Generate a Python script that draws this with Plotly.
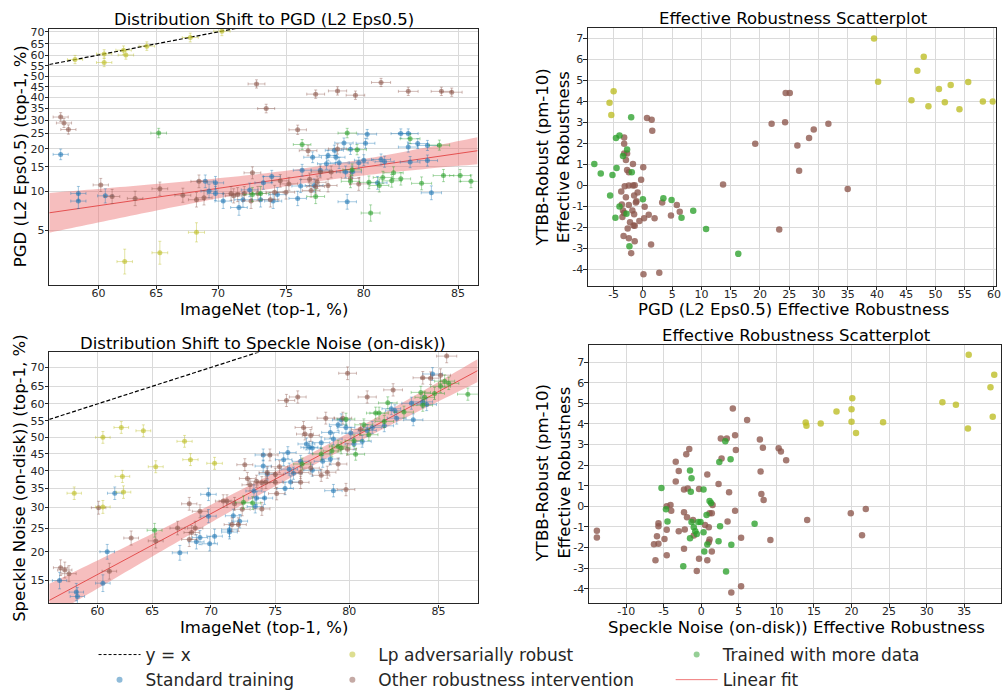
import numpy as np
import plotly.graph_objects as go

# ---------------- data ----------------
# Top-left: (ImageNet top-1 %, PGD (L2 Eps0.5) top-1 %)
PGD_STANDARD = [(56.6,18.3),(58.2,9.6),(58.2,8.4),(60.6,9.2),(69.0,11.8),(69.8,11.5),(69.8,9.6),(70.4,8.4),
    (69.3,10.0),(71.6,7.5),(71.9,8.6),(72.4,10.2),(73.2,8.6),(73.4,11.5),(74.0,12.8),(74.1,8.4),(74.4,9.4),
    (75.8,8.8),(76.0,10.9),(76.1,14.2),(76.8,17.5),(76.9,11.0),(77.3,14.2),(77.7,15.8),(77.8,18.0),(78.2,19.5),
    (78.3,17.5),(78.5,16.0),(78.8,21.8),(78.9,13.8),(79.0,8.3),(79.2,19.8),(79.3,13.8),(79.7,16.0),(80.1,21.7),
    (80.2,24.8),(80.0,16.7),(80.8,11.5),(81.0,16.9),(81.2,16.3),(82.1,25.0),(82.5,25.0),(82.5,20.5),(82.6,16.2),
    (83.0,21.6),(83.5,16.6),(83.5,21.0),(83.7,9.7)]
PGD_LP = [(57.9,57.9),(60.5,60.5),(60.5,56.5),(62.2,62.2),(62.4,60.0),(64.2,64.0),(67.8,67.7),(70.3,70.3),
    (62.3,2.8),(65.3,3.3),(68.3,4.8)]
PGD_OTHER = [(56.6,31.4),(56.9,29.0),(57.3,26.5),(72.9,46.3),(73.6,35.0),(77.0,41.5),(78.4,43.0),(79.5,41.0),
    (81.0,47.0),(82.5,42.8),(84.2,42.8),(84.7,42.4),(75.8,26.4),(60.2,11.1),(61.2,9.1),(63.2,8.8),(65.3,10.4),
    (67.2,9.3),(68.3,8.6),(68.5,11.8),(68.9,8.9),(71.0,9.6),(71.5,9.4),(72.0,9.6),(72.5,8.4),(72.6,13.6),
    (73.0,9.6),(73.9,8.6),(74.2,9.8),(74.6,11.9),(75.0,9.8),(75.2,11.3),(76.6,12.2),(76.5,19.4),(77.0,10.8),
    (77.3,13.8),(77.8,11.0),(78.0,13.8),(78.4,19.9),(79.7,11.3),(79.2,12.4),(76.7,10.1),(77.1,11.6),(71.2,9.2)]
PGD_MOREDATA = [(65.2,25.2),(76.1,21.3),(79.0,25.2),(79.6,19.7),(79.3,14.3),(79.2,11.8),(77.0,9.1),(80.3,11.6),
    (80.4,6.8),(80.9,11.0),(81.1,12.6),(81.6,11.9),(81.7,13.6),(82.1,12.3),(82.6,23.2),(83.2,11.4),(84.1,21.1),
    (84.3,13.0),(85.1,13.0),(85.6,11.8),(72.6,9.4),(73.2,9.6)]
# linear fit in logit space: slope, intercept, and confidence band parameters
PGD_FIT = {"slope": 0.750, "intercept": -2.781, "center": 1.208, "a": 0.0204, "b": 0.128}

# Bottom-left: (ImageNet top-1 %, Speckle Noise (on-disk) top-1 %)
SPK_STANDARD = [(56.4,15.0),(58.0,13.3),(58.1,12.7),(60.5,14.6),(60.9,20.0),(61.6,33.7),(67.4,19.8),(69.1,22.9),
    (68.8,22.0),(69.9,21.6),(70.3,23.2),(69.8,33.4),(69.8,27.8),(71.5,24.6),(71.5,24.1),(71.8,27.9),(72.3,26.6),
    (73.4,34.3),(73.6,32.4),(73.5,30.2),(74.1,44.7),(74.1,41.4),(74.2,32.4),(74.4,39.1),(75.6,43.3),(75.9,45.4),
    (75.7,35.0),(76.1,36.8),(76.3,39.3),(76.0,40.5),(76.8,42.8),(77.2,48.0),(77.4,47.0),(77.6,46.8),(77.6,40.2),
    (78.2,48.4),(78.3,42.8),(78.8,43.5),(78.8,51.5),(79.0,49.5),(79.3,53.8),(79.5,55.3),(79.0,34.4),(79.8,53.0),
    (80.1,51.3),(80.3,48.0),(80.8,48.8),(81.1,52.1),(81.4,53.0),(82.1,53.5),(82.5,58.6),(82.7,58.0),(82.8,55.8),
    (83.6,60.2),(83.7,55.3),(84.2,60.6),(84.4,59.8),(84.7,68.3)]
SPK_LP = [(57.8,33.7),(60.5,50.0),(62.2,53.0),(64.2,52.0),(67.8,48.8),(68.3,43.3),(70.3,42.2),(65.3,41.2),
    (62.3,38.4),(62.4,34.0),(60.5,30.1)]
SPK_OTHER = [(56.5,17.1),(56.9,16.7),(57.3,16.1),(60.1,29.9),(61.1,16.5),(63.1,22.8),(65.3,22.2),(67.2,25.0),
    (68.2,30.9),(68.2,22.5),(68.4,24.0),(68.7,25.0),(69.1,29.0),(71.0,31.6),(71.3,31.6),(71.7,25.8),(71.9,30.9),
    (72.2,25.8),(72.5,29.5),(72.7,41.8),(72.9,37.8),(73.1,36.0),(73.6,37.0),(74.0,36.6),(74.3,36.7),(74.0,29.6),
    (74.6,44.7),(74.4,39.5),(75.0,39.0),(75.0,36.7),(75.3,41.2),(75.1,33.6),(75.8,61.0),(76.6,62.0),(76.8,39.5),
    (76.8,36.7),(77.1,51.0),(77.5,40.8),(77.5,50.6),(77.0,53.0),(78.2,38.7),(78.6,39.6),(78.5,55.8),(79.6,55.8),
    (79.8,34.7),(79.9,68.5),(81.1,62.0),(82.6,64.0),(84.2,67.3),(84.6,67.2),(85.1,68.0),(85.4,72.8),(79.9,46.4),
    (79.3,42.0),(80.7,52.4)]
SPK_MOREDATA = [(65.2,24.5),(72.6,31.3),(73.3,31.1),(76.9,42.0),(78.2,45.0),(78.9,45.9),(79.3,47.3),(79.5,46.8),
    (79.8,55.5),(80.3,49.0),(80.4,44.9),(80.9,53.8),(81.2,50.8),(81.6,57.3),(81.8,57.3),(82.3,60.3),(82.1,54.8),
    (83.2,57.6),(84.1,63.3),(84.3,61.9),(84.2,59.6),(84.8,63.0),(85.1,65.0),(85.3,66.4),(85.5,65.8),(86.4,62.8)]
SPK_FIT = {"slope": 1.667, "intercept": -2.337, "center": 1.25, "a": 0.0064, "b": 0.0317}

# Top-right: (PGD effective robustness, YTBB-Robust effective robustness)
ER_PGD_LP = [(39.5,7.0),(40.2,4.94),(45.9,4.06),(46.9,5.47),(48.0,6.13),(48.8,3.78),(50.6,4.6),(51.6,3.97),
    (52.6,4.79),(54.1,3.63),(55.6,4.93),(58.1,4.01),(59.8,4.0),(-5.7,3.95),(-5.0,4.49),(-5.4,3.36)]
ER_PGD_OTHER = [(24.4,4.41),(25.1,4.41),(22.0,2.95),(24.3,3.02),(29.2,2.67),(31.7,2.95),(19.2,1.99),(28.4,2.27),
    (26.4,1.91),(26.7,0.71),(13.7,0.05),(35.0,-0.16),(23.3,-2.09),(0.7,3.22),(1.5,3.13),(1.6,2.61),(-3.2,2.29),
    (-3.2,1.99),(-3.2,1.53),(-2.7,1.53),(-2.9,1.22),(-2.7,0.74),(-2.4,0.63),(-1.7,1.03),(0.06,0.87),(-0.3,0.28),
    (-3.1,-0.03),(-2.4,0.0),(-1.7,0.0),(-1.4,0.02),(-3.7,-0.28),(-0.9,-0.33),(-2.9,-0.55),(-1.5,-0.47),
    (-1.1,-0.74),(-1.2,-0.81),(-3.6,-0.9),(-2.4,-0.92),(0.3,-1.01),(3.3,-0.81),(5.8,-0.92),(6.3,-1.25),
    (-3.4,-1.18),(-3.2,-1.31),(-1.8,-1.18),(-1.5,-1.37),(1.0,-1.39),(-3.5,-1.5),(4.8,-1.42),(0.2,-1.55),
    (2.0,-1.55),(-2.2,-1.74),(-0.6,-1.69),(-1.6,-1.9),(-1.4,-1.91),(-2.6,-2.04),(-3.3,-2.4),(-2.4,-2.51),
    (-1.4,-2.65),(1.4,-2.8),(-2.0,-3.22),(0.1,-4.22),(2.8,-4.15)]
ER_PGD_MOREDATA = [(-8.3,1.03),(-7.2,0.58),(-5.2,0.51),(-4.5,0.84),(-4.6,2.27),(-4.0,2.39),(-2.7,1.72),
    (-3.4,1.41),(-2.0,3.25),(-1.9,0.63),(-5.6,-0.47),(-4.0,-1.0),(-2.8,-1.34),(-4.7,-1.53),(0.0,-0.65),
    (3.5,-0.6),(4.9,-0.68),(6.6,-1.53),(8.6,-1.2),(10.8,-2.07),(16.3,-3.25),(-2.3,-2.89)]

# Bottom-right: (Speckle Noise effective robustness, YTBB-Robust effective robustness)
ER_SPK_LP = [(35.6,7.36),(39.0,6.39),(38.5,5.78),(32.1,5.06),(33.9,4.93),(38.8,4.35),(35.5,3.78),(20.1,5.25),
    (20.0,4.72),(18.0,4.61),(20.0,4.11),(24.2,4.09),(13.9,4.07),(14.0,3.91),(15.9,4.03),(20.6,3.56)]
ER_SPK_OTHER = [(-13.9,-1.18),(-13.9,-1.51),(-6.3,-1.84),(-6.1,-2.62),(-5.9,-1.45),(-5.7,-0.97),(-5.7,-0.82),
    (-5.7,-1.82),(-4.9,-1.58),(-4.6,-1.14),(-4.6,-2.38),(-4.6,0.0),(-4.1,0.06),(-4.0,-0.21),(-3.4,1.21),
    (-3.4,2.17),(-3.0,1.72),(-3.0,-1.21),(-2.3,-0.29),(-2.2,-1.13),(-2.3,-2.06),(-2.0,2.53),(-1.6,2.79),
    (-2.3,0.82),(-1.8,0.87),(-1.9,-0.53),(-1.1,-0.66),(-1.0,-1.42),(-0.6,-3.14),(-0.3,-2.54),(-0.3,0.84),
    (0.5,-0.9),(0.8,1.55),(0.8,-2.62),(1.0,-1.01),(1.1,-0.34),(1.1,-1.61),(1.0,-1.74),(1.4,-0.34),(1.4,-2.19),
    (1.5,0.06),(2.3,1.08),(2.6,3.3),(2.7,2.33),(3.4,3.3),(3.5,-0.74),(3.7,0.68),(4.2,4.75),(4.5,3.45),
    (4.6,2.74),(4.5,-0.21),(5.3,-1.53),(5.3,-3.88),(4.0,-4.19),(6.1,4.19),(7.8,3.25),(7.9,1.69),(8.0,0.6),
    (8.2,2.85),(8.3,0.31),(9.2,-1.63),(10.3,2.82),(10.6,2.66),(11.3,2.24),(14.1,-0.66),(19.9,-0.34),
    (21.9,-0.13),(21.4,-1.4)]
ER_SPK_MOREDATA = [(-5.3,0.89),(-4.7,-0.14),(-4.5,-0.74),(-2.4,-2.91),(-1.5,1.74),(-1.3,1.37),(-1.4,0.71),
    (-1.3,-0.76),(-1.0,-1.01),(-0.8,-1.21),(-0.6,-1.34),(-1.5,-1.55),(-0.4,-0.76),(-0.1,-0.76),(0.3,0.82),
    (0.3,-1.26),(0.4,-2.19),(0.7,-0.42),(0.8,-1.85),(1.1,0.26),(1.3,0.16),(2.4,2.16),(2.5,-0.97),(2.3,-1.69),
    (3.2,3.16),(3.3,-3.17),(3.9,2.29),(4.0,-1.87),(7.1,-0.84)]

# axis limits and ticks
TL_XLIM, TL_YLIM = (55.56, 85.9), (1.815, 71.2)
BL_XLIM, BL_YLIM = (55.41, 86.84), (11.8, 73.66)
TR_XLIM, TR_YLIM = (-9.37, 60.3), (-4.77, 7.51)
BR_XLIM, BR_YLIM = (-14.94, 39.9), (-4.70, 7.86)
ACC_XTICKS = [60, 65, 70, 75, 80, 85]
PGD_YTICKS = [5, 10, 15, 20, 25, 30, 35, 40, 45, 50, 55, 60, 65, 70]
SPK_YTICKS = [15, 20, 25, 30, 35, 40, 45, 50, 55, 60, 65, 70]
TR_XTICKS = list(range(-5, 61, 5))
BR_XTICKS = list(range(-10, 36, 5))
ER_YTICKS = list(range(-4, 8))
N_IMAGENET, N_PGD, N_SPK = 20000, 2500, 3000

# ---------------- helpers ----------------
FONT = "DejaVu Sans"
TXT = "#262626"
COL = {"std": (31, 119, 180), "lp": (188, 189, 34), "other": (140, 86, 75), "more": (44, 160, 44)}


def rgba(c, a):
    return "rgba(%d,%d,%d,%.2f)" % (c[0], c[1], c[2], a)


def logit(p):
    p = np.asarray(p, float) / 100.0
    return np.log(p / (1 - p))


def ci(p, n):
    p = np.asarray(p, float) / 100.0
    return 1.96 / np.sqrt(n * p * (1 - p))


fig = go.Figure()


def acc_panel(series, fit, xlim, nx_y, xa, ya):
    xl = logit(xlim)
    # y = x
    fig.add_trace(go.Scatter(x=list(xl), y=list(xl), mode="lines", xaxis=xa, yaxis=ya, showlegend=False,
                             line=dict(color="black", width=1.2, dash="4px,2px"), hoverinfo="skip"))
    # fit band + line
    xs = np.linspace(xl[0], xl[1], 80)
    ys = fit["slope"] * xs + fit["intercept"]
    hw = np.sqrt(fit["a"] + fit["b"] * (xs - fit["center"]) ** 2)
    fig.add_trace(go.Scatter(x=np.concatenate([xs, xs[::-1]]), y=np.concatenate([ys + hw, (ys - hw)[::-1]]),
                             fill="toself", mode="none", fillcolor="rgba(235,110,110,0.45)",
                             xaxis=xa, yaxis=ya, showlegend=False, hoverinfo="skip"))
    fig.add_trace(go.Scatter(x=xs, y=ys, mode="lines", line=dict(color="rgb(228,80,80)", width=1),
                             xaxis=xa, yaxis=ya, showlegend=False, hoverinfo="skip"))
    for key, pts in series:
        px = [p[0] for p in pts]
        py = [p[1] for p in pts]
        c = COL[key]
        fig.add_trace(go.Scatter(
            x=logit(px), y=logit(py), mode="markers", xaxis=xa, yaxis=ya, showlegend=False,
            marker=dict(color=rgba(c, 0.6), size=5, line=dict(width=0)),
            error_x=dict(type="data", array=ci(px, N_IMAGENET), color=rgba(c, 0.4), thickness=1, width=1.5),
            error_y=dict(type="data", array=ci(py, nx_y), color=rgba(c, 0.4), thickness=1, width=1.5)))


def er_panel(series, xa, ya):
    for key, pts in series:
        c = COL[key]
        fig.add_trace(go.Scatter(x=[p[0] for p in pts], y=[p[1] for p in pts], mode="markers",
                                 xaxis=xa, yaxis=ya, showlegend=False,
                                 marker=dict(color=rgba(c, 0.78), size=6.5, line=dict(width=0))))


acc_panel([("std", PGD_STANDARD), ("other", PGD_OTHER), ("more", PGD_MOREDATA), ("lp", PGD_LP)],
          PGD_FIT, TL_XLIM, N_PGD, "x", "y")
acc_panel([("std", SPK_STANDARD), ("other", SPK_OTHER), ("more", SPK_MOREDATA), ("lp", SPK_LP)],
          SPK_FIT, BL_XLIM, N_SPK, "x2", "y2")
er_panel([("lp", ER_PGD_LP), ("other", ER_PGD_OTHER), ("more", ER_PGD_MOREDATA)], "x3", "y3")
er_panel([("lp", ER_SPK_LP), ("other", ER_SPK_OTHER), ("more", ER_SPK_MOREDATA)], "x4", "y4")

# legend entries (three columns)
LEG = dict(x=[None], y=[None], xaxis="x", yaxis="y")
fig.add_trace(go.Scatter(**LEG, mode="lines", name="y = x", legend="legend",
                         line=dict(color="black", width=1, dash="3px,2px")))
fig.add_trace(go.Scatter(**LEG, mode="markers", name="Standard training", legend="legend",
                         marker=dict(color=rgba(COL["std"], 0.5), size=6)))
fig.add_trace(go.Scatter(**LEG, mode="markers", name="Lp adversarially robust", legend="legend2",
                         marker=dict(color=rgba(COL["lp"], 0.5), size=6)))
fig.add_trace(go.Scatter(**LEG, mode="markers", name="Other robustness intervention", legend="legend2",
                         marker=dict(color=rgba(COL["other"], 0.5), size=6)))
fig.add_trace(go.Scatter(**LEG, mode="markers", name="Trained with more data", legend="legend3",
                         marker=dict(color=rgba(COL["more"], 0.5), size=6)))
fig.add_trace(go.Scatter(**LEG, mode="lines", name="Linear fit", legend="legend3",
                         line=dict(color="rgb(240,120,120)", width=1)))

W, H = 1006, 698


def axis(domain, rng, tickvals, ticktext, anchor, standoff):
    return dict(domain=domain, range=rng, tickvals=tickvals, ticktext=ticktext, anchor=anchor,
                showgrid=True, gridcolor="#dadada", gridwidth=1.3, zeroline=False,
                showline=True, mirror=True, linecolor=TXT, linewidth=1.3,
                ticks="outside", ticklen=3.5, tickwidth=1, tickcolor=TXT, ticklabelstandoff=standoff,
                tickfont=dict(family=FONT, size=11, color=TXT))


def dom_x(a, b):
    return [a / W, b / W]


def dom_y(top, bottom):
    return [1 - bottom / H, 1 - top / H]


XS, YS = -6, -2
lay = dict(width=W, height=H, margin=dict(l=0, r=0, t=0, b=0), paper_bgcolor="white", plot_bgcolor="white",
           font=dict(family=FONT, color=TXT))
lay["xaxis"] = axis(dom_x(49.5, 480), list(logit(TL_XLIM)), list(logit(ACC_XTICKS)), [str(v) for v in ACC_XTICKS], "y", XS)
lay["yaxis"] = axis(dom_y(26, 283), list(logit(TL_YLIM)), list(logit(PGD_YTICKS)), [str(v) for v in PGD_YTICKS], "x", YS)
lay["xaxis2"] = axis(dom_x(49.5, 480), list(logit(BL_XLIM)), list(logit(ACC_XTICKS)), [str(v) for v in ACC_XTICKS], "y2", XS)
lay["yaxis2"] = axis(dom_y(351, 603), list(logit(BL_YLIM)), list(logit(SPK_YTICKS)), [str(v) for v in SPK_YTICKS], "x2", YS)
lay["xaxis3"] = axis(dom_x(591, 1000.7), list(TR_XLIM), TR_XTICKS, [str(v) for v in TR_XTICKS], "y3", XS)
lay["yaxis3"] = axis(dom_y(25, 284), list(TR_YLIM), ER_YTICKS, [str(v) for v in ER_YTICKS], "x3", YS)
lay["xaxis4"] = axis(dom_x(592, 1006), list(BR_XLIM), BR_XTICKS, [str(v) for v in BR_XTICKS], "y4", XS)
lay["yaxis4"] = axis(dom_y(343, 602.7), list(BR_YLIM), ER_YTICKS, [str(v) for v in ER_YTICKS], "x4", YS)

leg_common = dict(orientation="v", yanchor="bottom", xanchor="left", bgcolor="rgba(0,0,0,0)", borderwidth=0,
                  font=dict(family=FONT, size=17, color=TXT), itemwidth=42, tracegroupgap=0, y=0)
lay["legend"] = dict(leg_common, x=94 / W)
lay["legend2"] = dict(leg_common, x=328 / W)
lay["legend3"] = dict(leg_common, x=674 / W)
fig.update_layout(**lay)


def ann(text, cx, cy, size, angle=0):
    fig.add_annotation(text=text, x=cx / W, y=1 - cy / H, xref="paper", yref="paper", showarrow=False,
                       xanchor="center", yanchor="middle", textangle=angle,
                       font=dict(family=FONT, size=size, color="black"))


ann("Distribution Shift to PGD (L2 Eps0.5)", 265, 16.5, 16.5)
ann("Effective Robustness Scatterplot", 797, 16, 16.5)
ann("Distribution Shift to Speckle Noise (on-disk))", 264, 341.5, 16.5)
ann("Effective Robustness Scatterplot", 800, 334, 16.5)
ann("ImageNet (top-1, %)", 265, 307.5, 16.5)
ann("ImageNet (top-1, %)", 265, 627.5, 16.5)
ann("PGD (L2 Eps0.5) Effective Robustness", 797, 307.5, 16.5)
ann("Speckle Noise (on-disk)) Effective Robustness", 800, 627.5, 16.5)
ann("PGD (L2 Eps0.5) (top-1, %)", 20, 154, 16.5, -90)
ann("Speckle Noise (on-disk)) (top-1, %)", 20, 477, 16.5, -90)
ann("YTBB-Robust (pm-10)<br>Effective Robustness", 556, 155, 16.5, -90)
ann("YTBB-Robust (pm-10)<br>Effective Robustness", 556, 472, 16.5, -90)

fig.write_html("out.html")
